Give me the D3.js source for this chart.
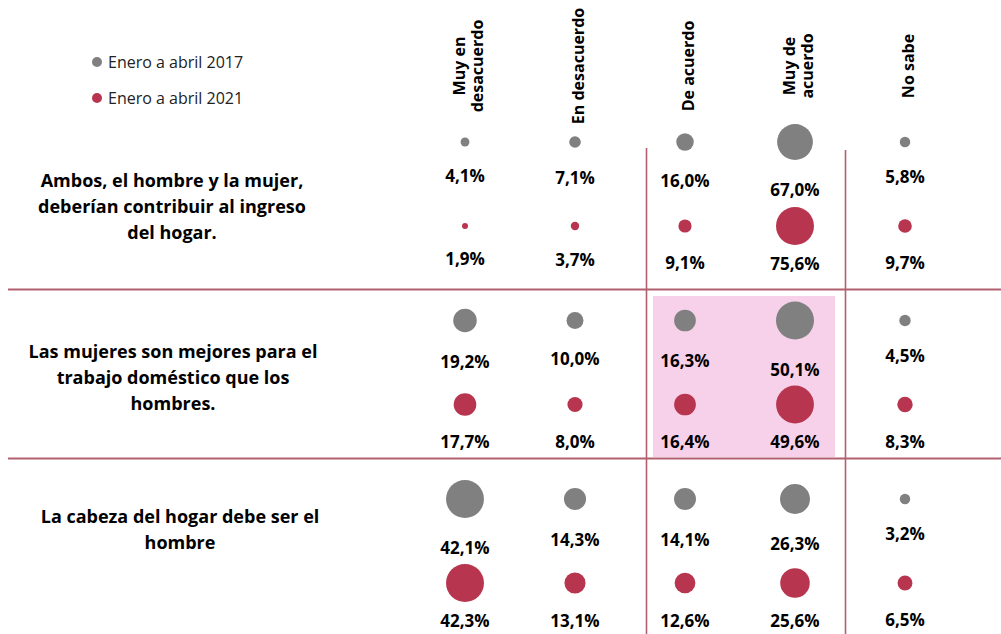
<!DOCTYPE html>
<html><head><meta charset="utf-8">
<script src="https://cdn.jsdelivr.net/npm/d3@7"></script>
<style>
html,body{margin:0;padding:0;background:#fff;}
svg{display:block;}
text{font-family:"Open Sans",Lato,sans-serif;}
</style></head>
<body>
<svg id="chart" width="1001" height="634"></svg>
<script>
// ---- data ----
const categories = ["Muy en desacuerdo","En desacuerdo","De acuerdo","Muy de acuerdo","No sabe"];
const categoryLines = [["Muy en","desacuerdo"],["En desacuerdo"],["De acuerdo"],["Muy de","acuerdo"],["No sabe"]];
const statements = [
  "Ambos, el hombre y la mujer, deberían contribuir al ingreso del hogar.",
  "Las mujeres son mejores para el trabajo doméstico que los hombres.",
  "La cabeza del hogar debe ser el hombre"
];
const statementLines = [
  ["Ambos, el hombre y la mujer,","deberían contribuir al ingreso","del hogar."],
  ["Las mujeres son mejores para el","trabajo doméstico que los","hombres."],
  ["La cabeza del hogar debe ser el","hombre"]
];
const seriesNames = ["Enero a abril 2017","Enero a abril 2021"];
const values2017 = [
  [4.1, 7.1, 16.0, 67.0, 5.8],
  [19.2, 10.0, 16.3, 50.1, 4.5],
  [42.1, 14.3, 14.1, 26.3, 3.2]
];
const values2021 = [
  [1.9, 3.7, 9.1, 75.6, 9.7],
  [17.7, 8.0, 16.4, 49.6, 8.3],
  [42.3, 13.1, 12.6, 25.6, 6.5]
];

// ---- layout ----
const colors = ["#808080", "#b8354f"];
const lineColor = "#b2606f";
const svg = d3.select("#chart");

const x = d3.scalePoint().domain(categories).range([465, 905]);
const y = d3.scalePoint().domain(statements).range([142, 499]);
const seriesOffset = 84;
const maxR = 19;
const labelGap = 36;
const redLabelCap = [270, 448, 627];
const stmtCenter = [207, 378, 530];
const stmtX = [172, 173, 180];

// highlight box
svg.append("rect").attr("x", 653).attr("y", 296).attr("width", 182).attr("height", 161)
  .attr("fill", "#f7d1e9");

// grid lines
[289.5, 458.5].forEach(yy => svg.append("line").attr("x1", 8).attr("x2", 1001)
  .attr("y1", yy).attr("y2", yy).attr("stroke", lineColor).attr("stroke-width", 1.8));
[[646.5, 148], [845.5, 150]].forEach(([xx, y0]) => svg.append("line").attr("x1", xx).attr("x2", xx)
  .attr("y1", y0).attr("y2", 634).attr("stroke", lineColor).attr("stroke-width", 1.6));

// legend
seriesNames.forEach((s, i) => {
  const g = svg.append("g").attr("transform", `translate(97,${62 + i * 36})`);
  g.append("circle").attr("r", 5).attr("fill", colors[i]);
  g.append("text").attr("x", 11).attr("dy", "0.35em").attr("font-size", 16)
    .attr("fill", "#222").text(s);
});

// column headers (rotated)
categories.forEach((c, i) => {
  const lines = categoryLines[i];
  const n = lines.length;
  lines.forEach((l, j) => {
    const bx = x(c) + 9 + (j - (n - 1) / 2) * 18;
    svg.append("text").attr("transform", `translate(${bx},66) rotate(-90)`)
      .attr("text-anchor", "middle").attr("font-size", 16).attr("font-weight", 700)
      .attr("fill", "#000").text(l);
  });
});

// statements
statements.forEach((s, i) => {
  const lines = statementLines[i];
  const n = lines.length;
  const t = svg.append("text").attr("text-anchor", "middle").attr("font-size", 18)
    .attr("font-weight", 700).attr("fill", "#000");
  lines.forEach((l, j) => {
    t.append("tspan").attr("x", stmtX[i]).attr("y", stmtCenter[i] + (j - (n - 1) / 2) * 26)
      .attr("dy", "0.35em").text(l);
  });
});

// bubbles
const fmt = v => v.toFixed(1).replace(".", ",") + "%";
[values2017, values2021].forEach((series, si) => {
  series.forEach((row, ri) => {
    const rowMax = d3.max([...values2017[ri], ...values2021[ri]]);
    const r = d3.scaleSqrt().domain([0, rowMax]).range([0, maxR]);
    const cy = y(statements[ri]) + si * seriesOffset;
    row.forEach((v, ci) => {
      const cx = x(categories[ci]);
      svg.append("circle").attr("cx", cx).attr("cy", cy).attr("r", r(v)).attr("fill", colors[si]);
      let ly = cy + r(v) + labelGap;
      if (si === 1) ly = Math.min(ly, redLabelCap[ri]);
      svg.append("text").attr("x", cx).attr("y", ly).attr("text-anchor", "middle")
        .attr("font-size", 17).attr("font-weight", 700).attr("fill", "#000").text(fmt(v));
    });
  });
});
</script>
</body></html>
